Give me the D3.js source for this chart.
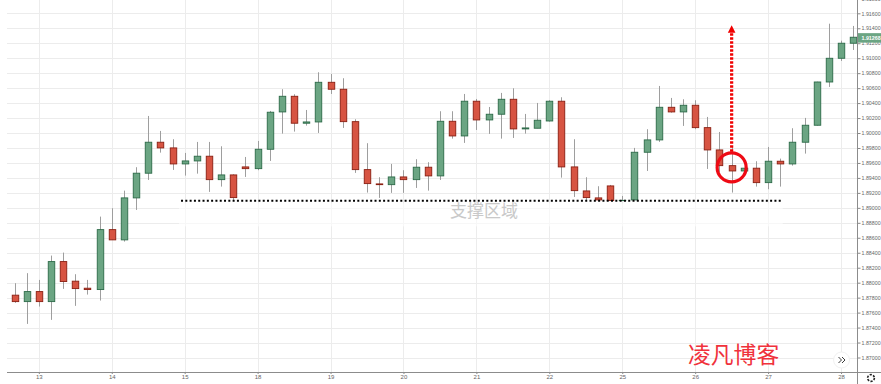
<!DOCTYPE html>
<html>
<head>
<meta charset="utf-8">
<script src="https://cdn.jsdelivr.net/npm/d3@7"></script>
<style>
    html, body { margin: 0; padding: 0; background: #fff; overflow: hidden; }
    svg { display: block; font-family: "Liberation Sans", sans-serif; }
</style>
</head>
<body>
<div id="chart"></div>
<script>
// Candle values, one entry per four-hour bar
const opens = [1.87833,1.87747,1.87881,1.87747,1.88282,1.88020,1.87926,1.87908,1.88709,1.88572,1.89133,1.89463,1.89877,1.89801,1.89587,1.89627,1.89690,1.89377,1.89440,1.89547,1.89524,1.89783,1.90282,1.90491,1.90131,1.90148,1.90678,1.90585,1.90152,1.89511,1.89320,1.89310,1.89413,1.89377,1.89543,1.89427,1.90157,1.89961,1.90425,1.90175,1.90251,1.90451,1.90055,1.90064,1.90161,1.90425,1.89547,1.89226,1.89133,1.89293,1.89097,1.89106,1.89743,1.89908,1.90344,1.90282,1.90371,1.90072,1.89774,1.89564,1.89493,1.89530,1.89337,1.89623,1.89587,1.89877,1.90104,1.90682,1.90999,1.91200];
const closes = [1.87747,1.87881,1.87747,1.88282,1.88015,1.87921,1.87908,1.88709,1.88572,1.89133,1.89463,1.89877,1.89801,1.89587,1.89627,1.89690,1.89377,1.89440,1.89137,1.89524,1.89783,1.90278,1.90491,1.90131,1.90148,1.90678,1.90585,1.90152,1.89511,1.89324,1.89310,1.89413,1.89377,1.89543,1.89427,1.90157,1.89961,1.90425,1.90175,1.90251,1.90451,1.90055,1.90068,1.90171,1.90425,1.89547,1.89230,1.89137,1.89106,1.89097,1.89100,1.89743,1.89908,1.90344,1.90282,1.90371,1.90072,1.89774,1.89564,1.89493,1.89530,1.89337,1.89623,1.89587,1.89877,1.90104,1.90682,1.90999,1.91200,1.91280];
const highs = [1.87993,1.88127,1.88037,1.88362,1.88402,1.88113,1.88037,1.88883,1.88995,1.89230,1.89543,1.90228,1.90028,1.89917,1.89734,1.89881,1.89881,1.89823,1.89449,1.89680,1.89894,1.90295,1.90585,1.90518,1.90308,1.90812,1.90789,1.90732,1.90184,1.89864,1.89409,1.89587,1.89503,1.89650,1.89610,1.90291,1.90291,1.90522,1.90455,1.90348,1.90536,1.90598,1.90255,1.90402,1.90438,1.90478,1.89917,1.89409,1.89289,1.89306,1.89159,1.89801,1.90051,1.90629,1.90469,1.90451,1.90438,1.90215,1.90014,1.89814,1.89530,1.89623,1.89814,1.89658,1.90064,1.90202,1.90686,1.91461,1.91234,1.91431];
const lows = [1.87730,1.87449,1.87681,1.87503,1.87917,1.87690,1.87841,1.87761,1.88572,1.88549,1.88972,1.89373,1.89738,1.89507,1.89431,1.89457,1.89213,1.89284,1.89106,1.89413,1.89503,1.89627,1.89992,1.90019,1.90099,1.90001,1.90522,1.90068,1.89467,1.89204,1.89133,1.89200,1.89200,1.89266,1.89230,1.89373,1.89925,1.89868,1.90041,1.89988,1.89925,1.89934,1.89992,1.90064,1.90152,1.89404,1.89146,1.89106,1.89097,1.89097,1.89097,1.89106,1.89493,1.89881,1.90272,1.90095,1.90051,1.89520,1.89480,1.89204,1.89493,1.89284,1.89249,1.89284,1.89564,1.89725,1.90099,1.90616,1.90963,1.91110];

const priceTicks = [1.87,1.872,1.874,1.876,1.878,1.88,1.882,1.884,1.886,1.888,1.89,1.892,1.894,1.896,1.898,1.9,1.902,1.904,1.906,1.908,1.91,1.912,1.914,1.916,1.918];
const dayTicks = [2,8,14,20,26,32,38,44,50,56,62,68];
const dayLabels = ["13","14","15","18","19","20","21","22","25","26","27","28"];

const lastPrice = 1.91268;
const supportLevel = 1.891;
const supportFrom = 13.7;
const supportTo = 63.2;
const signalBar = 59;
const signalPrice = 1.8954;
const arrowBase = 1.8975;
const arrowTop = 1.9134;
const arrowTip = 1.9144;

const width = 881, height = 384;
const plotLeft = 7, plotRight = 857.5, plotBottom = 372;

const svg = d3.select("#chart").append("svg")
    .attr("width", width)
    .attr("height", height);

const x = d3.scaleLinear().domain([0, 69]).range([14.5, 853.2]);
const y = d3.scaleLinear().domain([1.87, 1.916]).range([357.5, 13.3]);

// Grid
svg.append("g").selectAll("line")
    .data(priceTicks)
    .enter().append("line")
    .attr("x1", plotLeft)
    .attr("x2", plotRight)
    .attr("y1", d => Math.round(y(d)) + 0.5)
    .attr("y2", d => Math.round(y(d)) + 0.5)
    .attr("stroke", "#ececec");

svg.append("g").selectAll("line")
    .data(dayTicks)
    .enter().append("line")
    .attr("x1", d => Math.round(x(d)) + 0.5)
    .attr("x2", d => Math.round(x(d)) + 0.5)
    .attr("y1", 0)
    .attr("y2", plotBottom)
    .attr("stroke", "#ececec");

// Pale patch pasted under the support line
svg.append("rect")
    .attr("x", x(supportFrom) - 2)
    .attr("y", y(supportLevel) + 3)
    .attr("width", x(supportTo) - x(supportFrom) + 2)
    .attr("height", 23)
    .attr("fill", "#fff")
    .attr("opacity", 0.6);

// Candles
const bars = opens.map((o, i) => ({ i, o, c: closes[i], h: highs[i], l: lows[i] }));

const candles = svg.append("g").selectAll("g")
    .data(bars)
    .enter().append("g");

candles.append("line")
    .attr("x1", d => Math.round(x(d.i)) + 0.5)
    .attr("x2", d => Math.round(x(d.i)) + 0.5)
    .attr("y1", d => y(d.h))
    .attr("y2", d => y(d.l))
    .attr("stroke", "#9e9e9e");

candles.append("rect")
    .attr("x", d => Math.round(x(d.i)) - 2.75)
    .attr("y", d => y(Math.max(d.o, d.c)))
    .attr("width", 6.5)
    .attr("height", d => Math.abs(y(d.o) - y(d.c)))
    .attr("fill", d => d.c >= d.o ? "#6ba583" : "#d75442")
    .attr("stroke", d => d.c >= d.o ? "#2c6a48" : "#8a1f12")
    .attr("stroke-width", 0.9);

// Support line
svg.append("line")
    .attr("x1", x(supportFrom))
    .attr("x2", x(supportTo))
    .attr("y1", y(supportLevel) + 0.5)
    .attr("y2", y(supportLevel) + 0.5)
    .attr("stroke", "#000")
    .attr("stroke-width", 2)
    .attr("stroke-dasharray", "2 2.3");

svg.append("text")
    .attr("x", 484)
    .attr("y", 217)
    .attr("text-anchor", "middle")
    .style("font-family", '"Noto Sans CJK SC"')
    .style("font-size", "17px")
    .attr("fill", "#c9c9c9")
    .text("支撑区域");

// Signal marker and arrow
svg.append("line")
    .attr("x1", x(signalBar))
    .attr("x2", x(signalBar))
    .attr("y1", y(arrowBase))
    .attr("y2", y(arrowTop))
    .attr("stroke", "#f00000")
    .attr("stroke-width", 3.2)
    .attr("stroke-dasharray", "2.5 1.5");

svg.append("path")
    .attr("d", d3.line()([
        [x(signalBar), y(arrowTip)],
        [x(signalBar) + 3.8, y(arrowTop)],
        [x(signalBar) - 3.8, y(arrowTop)]
    ]) + "Z")
    .attr("fill", "#f00000");

svg.append("circle")
    .attr("cx", x(signalBar))
    .attr("cy", y(signalPrice))
    .attr("r", 14.5)
    .attr("fill", "none")
    .attr("stroke", "#ee0a14")
    .attr("stroke-width", 3.2);

// Axes
const yAxis = d3.axisRight(y)
    .tickValues(priceTicks)
    .tickFormat(d3.format(".5f"))
    .tickSize(3)
    .tickPadding(1);

const yAxisGroup = svg.append("g")
    .attr("transform", `translate(${plotRight},0)`)
    .call(yAxis);

yAxisGroup.select(".domain").remove();
yAxisGroup.selectAll("line").attr("stroke", "#888");
yAxisGroup.selectAll("text")
    .attr("fill", "#666")
    .style("font-family", '"Liberation Sans"')
    .style("font-size", "5.3px");

const xAxis = d3.axisBottom(x)
    .tickValues(dayTicks)
    .tickFormat((d, i) => dayLabels[i])
    .tickSize(2)
    .tickPadding(1);

const xAxisGroup = svg.append("g")
    .attr("transform", `translate(0,${plotBottom})`)
    .call(xAxis);

xAxisGroup.select(".domain").remove();
xAxisGroup.selectAll("line").attr("stroke", "#888");
xAxisGroup.selectAll("text")
    .attr("fill", "#666")
    .style("font-family", '"Liberation Sans"')
    .style("font-size", "6px");

svg.append("line")
    .attr("x1", plotLeft).attr("x2", width)
    .attr("y1", plotBottom + 0.5).attr("y2", plotBottom + 0.5)
    .attr("stroke", "#8c8c8c");

svg.append("line")
    .attr("x1", plotRight).attr("x2", plotRight)
    .attr("y1", 0).attr("y2", height)
    .attr("stroke", "#8c8c8c");

// Last price tag
svg.append("rect")
    .attr("x", plotRight + 0.5)
    .attr("y", y(lastPrice) - 5)
    .attr("width", width - plotRight)
    .attr("height", 9.5)
    .attr("fill", "#6ba583");

svg.append("text")
    .attr("x", 861.5)
    .attr("y", y(lastPrice) + 2)
    .attr("fill", "#fff")
    .style("font-size", "5.3px")
    .style("font-weight", "bold")
    .text(d3.format(".5f")(lastPrice));

// Scroll button and settings gear
svg.append("circle")
    .attr("cx", x(68) + 0.5)
    .attr("cy", 360)
    .attr("r", 8)
    .attr("fill", "#fff")
    .attr("stroke", "#f1f1f1");

svg.append("path")
    .attr("d", "M838.5 357l3 3-3 3M842 357l3 3-3 3")
    .attr("fill", "none")
    .attr("stroke", "#3a3a3a");

svg.append("circle")
    .attr("cx", 871)
    .attr("cy", 378)
    .attr("r", 3.4)
    .attr("fill", "none")
    .attr("stroke", "#222")
    .attr("stroke-width", 1.6)
    .attr("stroke-dasharray", "2.2 1.36");

svg.append("text")
    .attr("x", 688)
    .attr("y", 363)
    .style("font-family", '"Noto Sans CJK SC"')
    .style("font-size", "22.8px")
    .attr("fill", "#f0323c")
    .text("凌凡博客");
</script>
</body>
</html>
